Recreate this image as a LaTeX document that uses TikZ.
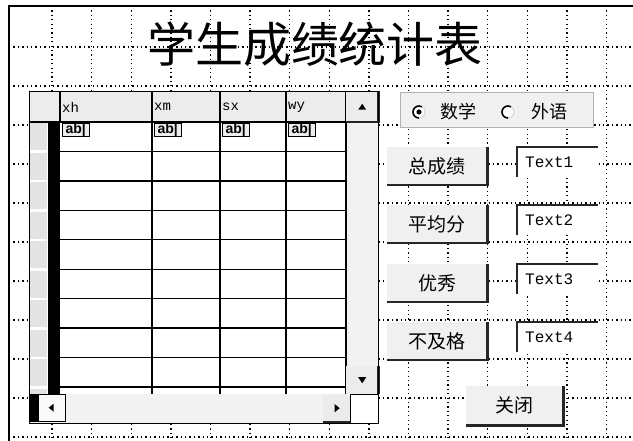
\documentclass[tikz,border=0pt]{standalone}
\usepackage{fontspec}
\newfontfamily\cjk{Noto Sans CJK SC}
\newfontfamily\monof{Liberation Mono}
\newfontfamily\sansf{Liberation Sans}
\begin{document}
\begin{tikzpicture}[x=1pt, y=-1pt,
    griddot/.style={line width=1.3pt, dash pattern=on 1.3pt off 3.1pt},
    gridline/.style={line width=1.3pt},
    relief/.style={line width=2.2pt, black!85},
    button/.style={fill=gray!12, inner sep=0pt, anchor=north west,
        minimum width=100pt, minimum height=38pt, font=\cjk\fontsize{19}{19}\selectfont},
    textbox/.style={fill=white, inner xsep=8pt, inner ysep=0pt, anchor=north west,
        text width=65pt, minimum height=30pt, align=left, font=\monof\fontsize{16}{16}\selectfont},
    colhead/.style={anchor=west, inner sep=1pt, font=\monof\fontsize{14}{14}\selectfont},
    abicon/.style={draw, fill=gray!15, anchor=west, inner xsep=1.5pt, inner ysep=0pt,
        minimum width=27pt, minimum height=13pt, font=\sansf\bfseries\fontsize{14}{14}\selectfont},
    radio/.style={circle, draw=gray!60, fill=white, inner sep=0pt, minimum size=12pt},
    label/.style={font=\cjk\fontsize{18}{18}\selectfont}]
    \useasboundingbox (0,0) rectangle (633,441);
    % design grid of the form
    \foreach \k in {1,...,15}
        \draw[griddot] ({12.5+39.6*\k},6) -- ({12.5+39.6*\k},441);
    \foreach \k in {1,...,11}
        \draw[griddot] (9,{8+39*\k}) -- (633,{8+39*\k});
    % form border
    \draw[line width=1.5pt] (9,441) -- (9,6) -- (633,6);
    % title
    \node[font=\cjk\fontsize{48}{48}\selectfont] (title) at (315,44) {学生成绩统计表};
    % data grid
    \node[draw, fill=white, inner sep=0pt, anchor=north west,
        minimum width=349pt, minimum height=332pt] (grid) at (29,91) {};
    \fill[gray!15] (29,91) rectangle (346,122);
    \foreach \r in {0,...,8}
        \fill[gray!22] (30,{123.5+29.44*\r}) rectangle (47,{150.5+29.44*\r});
    \fill[gray!22] (30,389) rectangle (47,394);
    \fill (48,122) rectangle (60,394);
    % rows and columns
    \draw[gridline] (29,122) -- (346,122);
    \foreach \r in {1,...,9}
        \draw[gridline] (60,{122+29.44*\r}) -- (350,{122+29.44*\r});
    \draw[gridline] (60,91) -- (60,122);
    \foreach \c in {152,220,286,346}
        \draw[gridline] (\c,91) -- (\c,394);
    % field names
    \foreach \h/\x in {xh/61, xm/153, sx/221, wy/287}
        \node[colhead] (head\h) at (\x,107) {\h};
    \foreach \x [count=\i] in {62,154,222,288}
        \node[abicon] (icon\i) at (\x,129.5) {ab|};
    % vertical scroll bar
    \fill[gray!10] (347,123) rectangle (378,366);
    \node[fill=gray!15, inner sep=0pt, anchor=north west,
        minimum width=32pt, minimum height=31pt] (up) at (346,91) {};
    \draw[relief] (up.south west) -- (up.south east) -- (up.north east);
    \fill (up.center) ++(0,-3) -- ++(-4,6) -- ++(8,0) -- cycle;
    \node[fill=gray!15, inner sep=0pt, anchor=north west,
        minimum width=32pt, minimum height=28pt] (down) at (346,366) {};
    \draw[relief] (down.north east) -- (down.south east);
    \fill (down.center) ++(0,3) -- ++(-4,-6) -- ++(8,0) -- cycle;
    % horizontal scroll bar
    \fill[gray!10] (29,394) rectangle (350,423);
    \fill (29,394) rectangle (38,422);
    \node[draw, fill=gray!5, inner sep=0pt, anchor=north west,
        minimum width=27pt, minimum height=27pt] (left) at (38,394) {};
    \fill (left.center) ++(-3,0) -- ++(5,-4) -- ++(0,8) -- cycle;
    \node[fill=gray!15, inner sep=0pt, anchor=north west,
        minimum width=27pt, minimum height=28pt] (right) at (323,394) {};
    \draw[relief] (right.south west) -- (right.south east);
    \fill (right.center) ++(3,0) -- ++(-5,-4) -- ++(0,8) -- cycle;
    \node[draw, fill=white, inner sep=0pt, anchor=north west,
        minimum width=28pt, minimum height=29pt] (corner) at (350,394) {};
    \draw (grid.north west) rectangle (grid.south east);
    % option frame
    \node[draw=gray!60, fill=gray!12, inner sep=0pt, anchor=north west,
        minimum width=193pt, minimum height=35pt] (subject) at (400,92) {};
    \node[radio] (math) at (419,112) {};
    \draw[line width=1.6pt] (math.center) ++(90:6) arc (90:300:6);
    \fill (math.center) circle (2.6);
    \node[label] (mathlabel) at (458,112) {数学};
    \node[radio] (lang) at (508,112) {};
    \draw[line width=1.6pt] (lang.center) ++(90:6) arc (90:300:6);
    \node[label] (langlabel) at (549,112) {外语};
    % command buttons and text boxes
    \foreach \lab/\ypos [count=\i] in {总成绩/147, 平均分/205, 优秀/264, 不及格/322} {
        \node[button] (btn\i) at (387,\ypos) {\lab};
        \draw[relief] (btn\i.south west) -- (btn\i.south east) -- (btn\i.north east);
        \node[textbox] (txt\i) at (517,\ypos) {Text\i};
        \draw[relief] (txt\i.south west) -- (txt\i.north west) -- (txt\i.north east);
    }
    % close button
    \node[button, minimum width=97pt, minimum height=39pt] (close) at (466,386) {关闭};
    \draw[relief] (close.south west) -- (close.south east) -- (close.north east);
\end{tikzpicture}
\end{document}
